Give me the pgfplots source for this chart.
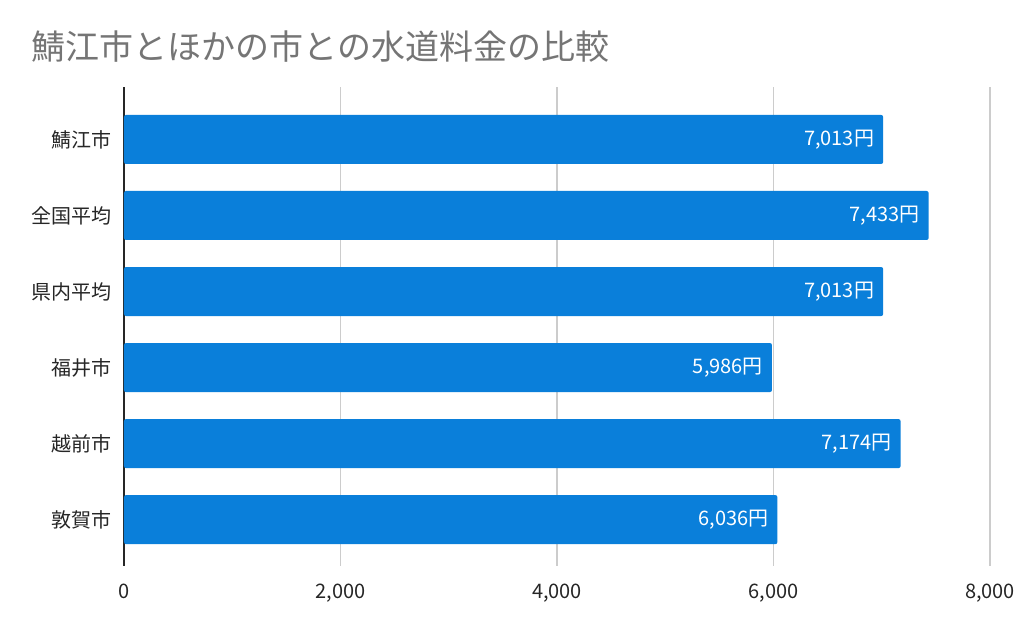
\documentclass[border=0pt]{standalone}
\usepackage{pgfplots}
\pgfplotsset{compat=1.18}
\usepackage{fontspec}
\setmainfont{Noto Sans CJK JP}
\definecolor{barblue}{HTML}{0A7FDA}
\definecolor{titlegray}{HTML}{757575}
\definecolor{gridgray}{HTML}{CCCCCC}
\begin{document}
\begin{tikzpicture}
\path[use as bounding box] (0,0) rectangle (512pt,316.5pt);
\node[anchor=west, text=titlegray, font=\fontsize{17pt}{19pt}\selectfont, inner sep=0pt] at (15.5pt,293pt) {鯖江市とほかの市との水道料金の比較};
\begin{axis}[
  at={(62pt,33.5pt)}, anchor=south west,
  scale only axis, width=433pt, height=239.5pt,
  xbar, bar width=24.5pt,
  xmin=0, xmax=8000,
  ymin=-0.69, ymax=5.61, y dir=reverse,
  ytick={0,1,2,3,4,5},
  yticklabels={鯖江市,全国平均,県内平均,福井市,越前市,敦賀市},
  xtick={0,2000,4000,6000,8000},
  /pgf/number format/assume math mode=true,
  /pgf/number format/1000 sep={,},
  scaled x ticks=false,
  xmajorgrids, major grid style={gridgray, line width=0.6pt},
  axis y line*=left, axis x line*=bottom,
  x axis line style={draw=none},
  y axis line style={black!85, line width=0.8pt},
  major tick length=0pt,
  tick label style={font=\fontsize{10pt}{12pt}\selectfont, text=black!85},
  yticklabel style={inner sep=0pt, xshift=-6pt},
  xticklabel style={inner sep=0pt, yshift=-9pt},
  point meta=x,
  nodes near coords={\pgfmathprintnumber{\pgfplotspointmeta}円},
  nodes near coords align={anchor=east},
  every node near coord/.append style={text=white, font=\fontsize{10pt}{12pt}\selectfont, xshift=-1pt},
]
\addplot[fill=barblue, draw=none, rounded corners=1pt] coordinates {
  (7013,0) (7433,1) (7013,2) (5986,3) (7174,4) (6036,5)
};
\end{axis}
\end{tikzpicture}
\end{document}
